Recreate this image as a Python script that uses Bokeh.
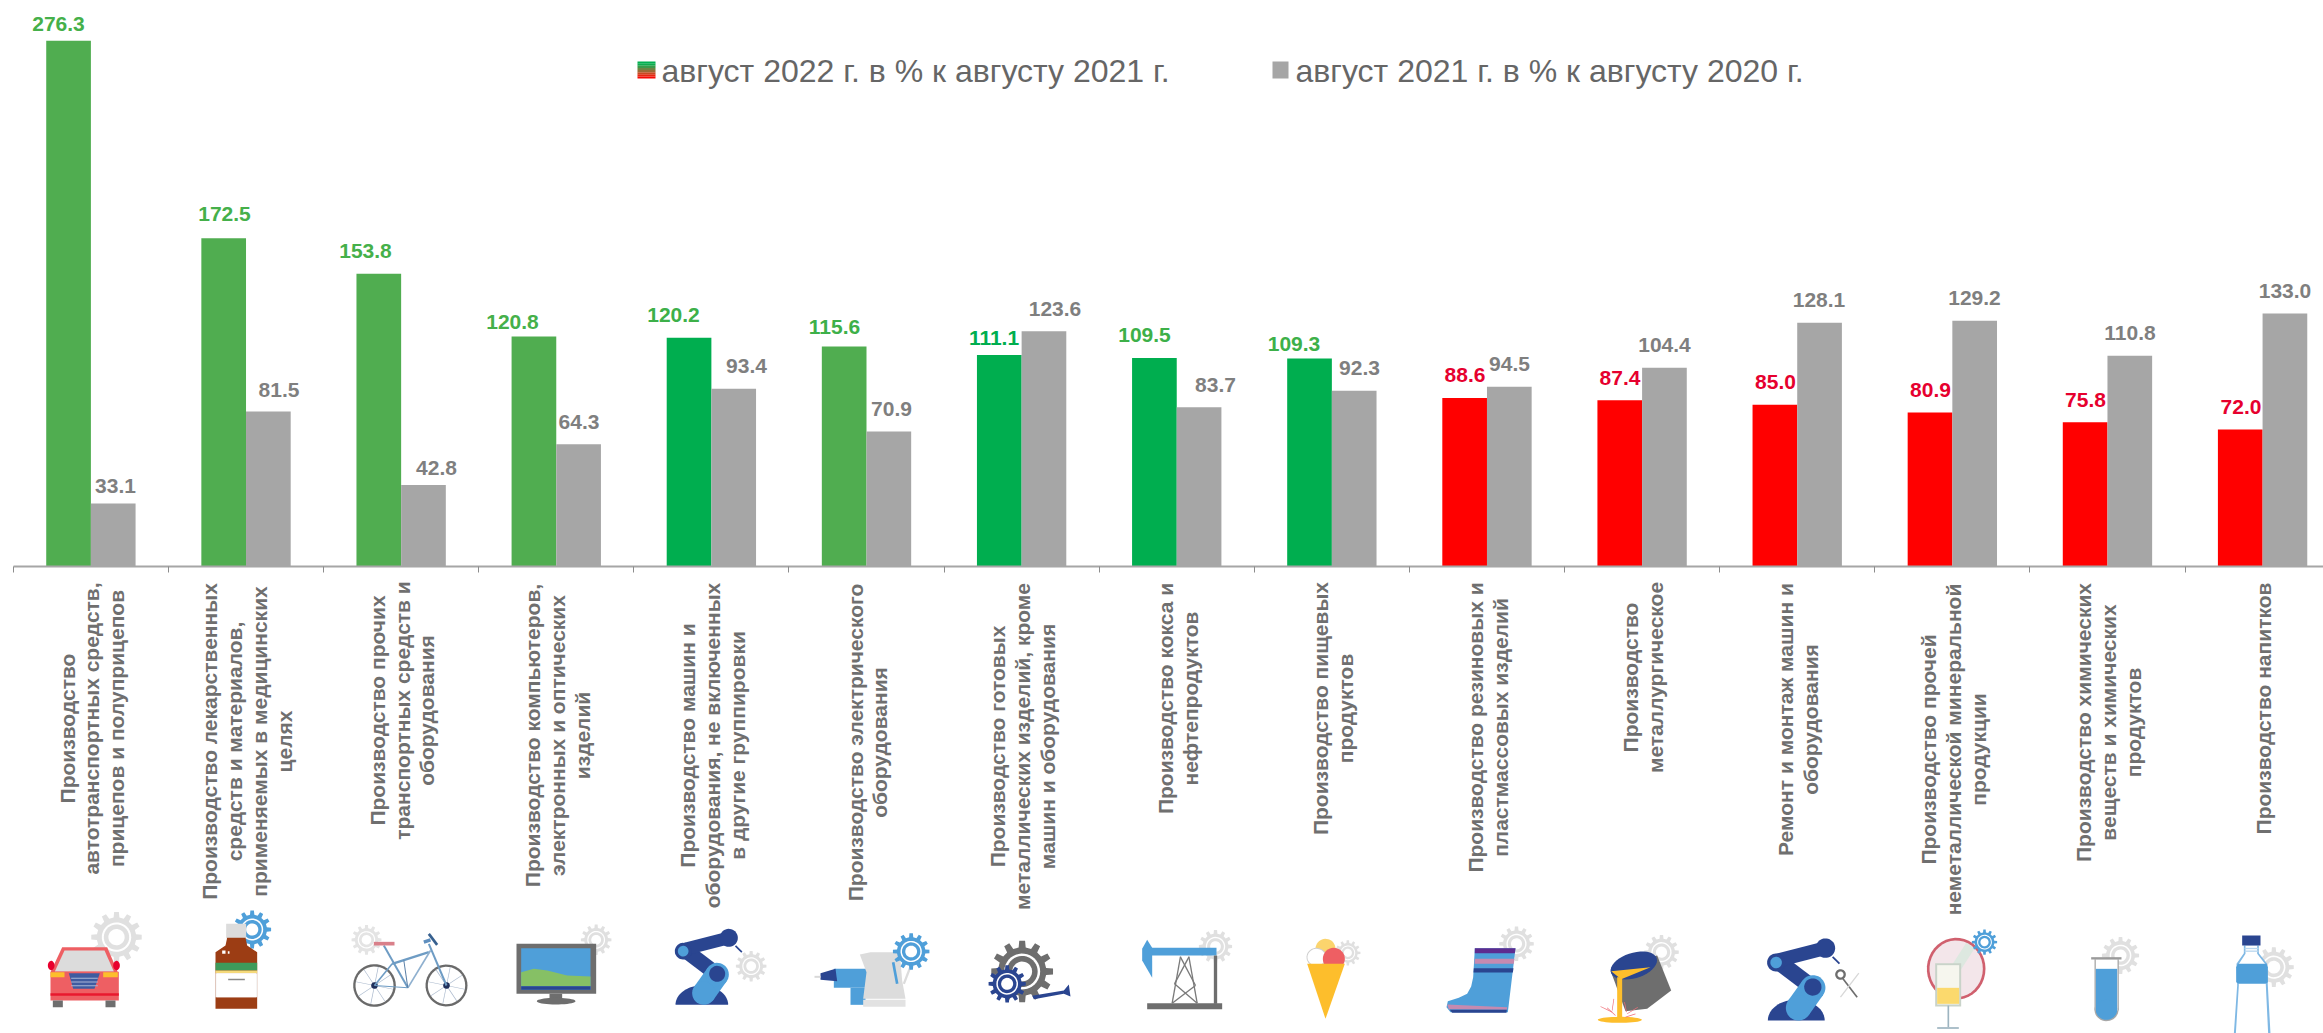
import numpy as np
from bokeh.plotting import figure
from bokeh.models import Range1d, FixedTicker
from bokeh.core.properties import value
from bokeh.embed import file_html
from bokeh.resources import INLINE

# ---------- data ----------
cat_lines = [
    ["Производство", "автотранспортных средств,", "прицепов и полуприцепов"],
    ["Производство лекарственных", "средств и материалов,", "применяемых в медицинских", "целях"],
    ["Производство прочих", "транспортных средств и", "оборудования"],
    ["Производство компьютеров,", "электронных и оптических", "изделий"],
    ["Производство машин и", "оборудования, не включенных", "в другие группировки"],
    ["Производство электрического", "оборудования"],
    ["Производство готовых", "металлических изделий, кроме", "машин и оборудования"],
    ["Производство кокса и", "нефтепродуктов"],
    ["Производство пищевых", "продуктов"],
    ["Производство резиновых и", "пластмассовых изделий"],
    ["Производство", "металлургическое"],
    ["Ремонт и монтаж машин и", "оборудования"],
    ["Производство прочей", "неметаллической минеральной", "продукции"],
    ["Производство химических", "веществ и химических", "продуктов"],
    ["Производство напитков"],
]
values_2022 = [276.3, 172.5, 153.8, 120.8, 120.2, 115.6, 111.1, 109.5, 109.3, 88.6, 87.4, 85.0, 80.9, 75.8, 72.0]
values_2021 = [33.1, 81.5, 42.8, 64.3, 93.4, 70.9, 123.6, 83.7, 92.3, 94.5, 104.4, 128.1, 129.2, 110.8, 133.0]
colors_2022 = ["#50AD50"] * 4 + ["#00AE4F"] + ["#50AD50"] + ["#00AE4F"] * 3 + ["#FF0000"] * 6
label_colors_2022 = ["#45B04A"] * 4 + ["#3DB049"] * 2 + ["#00AE4F"] + ["#3DB049"] * 2 + ["#E6002E"] * 6
legend_labels = ["август 2022 г. в % к августу 2021 г.", "август 2021 г. в % к августу 2020 г."]
legend_gradient = ["#00B050", "#0FAB4E", "#3A9A4A", "#6C8543", "#9A6A35", "#C44B22", "#E52810", "#F50A05"]

# ---------- layout (page pixels) ----------
FRAME_L, FRAME_R, FRAME_T, FRAME_B = 0, 2323, 0, 1033
AXIS_Y, PX_PER_UNIT = 566, 1.903
CAT0, CAT_W = 90.4, 155.12
BAR_W = 0.288
label_x_2022 = [58, 224, 365, 512, 673, 834, 993.5, 1144, 1293.5, 1464.5, 1619.5, 1775, 1930, 2085, 2240.5]
label_y_2022 = [23, 213.5, 250, 321, 314, 326, 337, 334, 343, 374, 377, 381, 389, 399, 406]
label_x_2021 = [115, 278.5, 436, 578.5, 746, 891, 1054.5, 1215, 1359, 1509, 1664, 1818.5, 1974, 2129.5, 2284.5]
label_y_2021 = [485, 389.5, 467, 421, 365, 408, 308, 384, 367, 363, 344, 299, 297, 332, 290]
cat_center_y = [728, 741, 710, 735, 745, 742, 746, 698, 708, 727, 677, 719, 749, 722, 708]
LINE_STEP = 24.8
CAT_FONT, VAL_FONT, LEG_FONT = "21px", "21px", "32px"

p = figure(width=FRAME_R - FRAME_L, height=FRAME_B - FRAME_T, output_backend="svg", toolbar_location=None,
           x_range=Range1d((FRAME_L - CAT0) / CAT_W, (FRAME_R - CAT0) / CAT_W),
           y_range=Range1d((AXIS_Y - FRAME_B) / PX_PER_UNIT, (AXIS_Y - FRAME_T) / PX_PER_UNIT),
           min_border=0, outline_line_color=None, background_fill_color="white", border_fill_color="white")
p.extra_x_ranges["px"] = Range1d(FRAME_L, FRAME_R)
p.extra_y_ranges["px"] = Range1d(FRAME_B, FRAME_T)
p.grid.visible = False
p.yaxis.visible = False
ax = p.xaxis[0]
ax.fixed_location = 0
ax.bounds = (-0.5, 15)
ticks = [i - 0.5 for i in range(len(values_2022) + 1)]
ax.ticker = FixedTicker(ticks=ticks)
ax.major_label_overrides = {t: "" for t in ticks}
ax.major_label_standoff = 0
ax.axis_line_color = "#A6A6A6"
ax.axis_line_width = 2
ax.major_tick_line_color = "#8C8C8C"
ax.major_tick_line_width = 1
ax.major_tick_in = 0
ax.major_tick_out = 6
ax.minor_tick_line_color = None

idx = np.arange(len(values_2022))
p.vbar(x=idx - BAR_W / 2, top=values_2022, width=BAR_W, bottom=0, fill_color=colors_2022, line_color=None)
p.vbar(x=idx + BAR_W / 2, top=values_2021, width=BAR_W, bottom=0, fill_color="#A6A6A6", line_color=None)

PX = dict(x_range_name="px", y_range_name="px")
BOLD = dict(text_font=value("Liberation Sans"), text_font_style="bold", text_align="center", text_baseline="middle")
p.text(x=label_x_2022, y=label_y_2022, text=[f"{v:.1f}" for v in values_2022], text_color=label_colors_2022,
       text_font_size=VAL_FONT, **BOLD, **PX)
p.text(x=label_x_2021, y=label_y_2021, text=[f"{v:.1f}" for v in values_2021], text_color="#7F7F7F",
       text_font_size=VAL_FONT, **BOLD, **PX)

tx, ty, tt = [], [], []
for i, lines in enumerate(cat_lines):
    n = len(lines)
    for k, s in enumerate(lines):
        tx.append(CAT0 + CAT_W * i + 1 + (k - (n - 1) / 2) * LINE_STEP)
        ty.append(cat_center_y[i])
        tt.append(s)
p.text(x=tx, y=ty, text=tt, angle=np.pi / 2, text_color="#6F6F6F", text_font_size=CAT_FONT, **BOLD, **PX)

# ---------- legend ----------
p.text(x=[661, 1295], y=[70, 70], text=legend_labels, text_color="#666666", text_font_size=LEG_FONT,
       text_font=value("Liberation Sans"), text_align="left", text_baseline="middle", **PX)
n_g = len(legend_gradient)
p.quad(left=[637] * n_g, right=[655] * n_g,
       top=[61 + 17 * i / n_g for i in range(n_g)], bottom=[61 + 17 * (i + 1) / n_g for i in range(n_g)],
       fill_color=legend_gradient, line_color=None, **PX)
p.quad(left=[1272], right=[1288], top=[61], bottom=[78], fill_color="#A6A6A6", line_color=None, **PX)

# ---------- icons, as flat polygons in crop coordinates (1/3 page px) ----------
GX, GY, GC = [], [], []
OX = 0
NAVY, BLUE, GR, DK, RED, YEL, WH = "#2A4590", "#4F9FD9", "#E0E0E0", "#6E6E6E", "#EE5F63", "#FDBE2C", "#FFFFFF"

def poly(pts, c):
    a = np.array(pts, float)
    GX.append((OX + a[:, 0] / 3).tolist())
    GY.append((900 + a[:, 1] / 3).tolist())
    GC.append(c)

def rect(x0, y0, x1, y1, c):
    poly([(x0, y0), (x1, y0), (x1, y1), (x0, y1)], c)

def ell(cx, cy, rx, ry, c, rot=0, a0=0, a1=2 * np.pi):
    t = np.linspace(a0, a1, 40)
    x, y = rx * np.cos(t), ry * np.sin(t)
    poly(list(zip(cx + x * np.cos(rot) - y * np.sin(rot), cy + x * np.sin(rot) + y * np.cos(rot))), c)

def line(x0, y0, x1, y1, w, c):
    d = np.array([x1 - x0, y1 - y0], float)
    n = np.array([-d[1], d[0]]) / np.hypot(*d) * w / 2
    poly([(x0 + n[0], y0 + n[1]), (x1 + n[0], y1 + n[1]), (x1 - n[0], y1 - n[1]), (x0 - n[0], y0 - n[1])], c)

def capsule(x0, y0, x1, y1, w, c):
    line(x0, y0, x1, y1, w, c)
    ell(x0, y0, w / 2, w / 2, c)
    ell(x1, y1, w / 2, w / 2, c)

def gear(cx, cy, r, c=GR, teeth=12):
    pts = []
    for k in range(teeth):
        a = 2 * np.pi * k / teeth
        s = 2 * np.pi / teeth
        for da, rr in [(-0.28, .78), (-0.18, 1), (0.18, 1), (0.28, .78)]:
            pts.append((cx + r * rr * np.cos(a + da * s), cy + r * rr * np.sin(a + da * s)))
    poly(pts, c)
    ell(cx, cy, .58 * r, .58 * r, WH)
    ell(cx, cy, .5 * r, .5 * r, c)
    ell(cx, cy, .32 * r, .32 * r, WH)

def robot(bx, by, s):
    X = lambda x: bx + (x - 525) * s
    Y = lambda y: by + (y - 313) * s
    ell(X(604), Y(313), 79 * s, 58 * s, NAVY, a0=np.pi, a1=2 * np.pi)
    capsule(X(555), Y(150), X(650), Y(222), 46 * s, NAVY)
    line(X(556), Y(145), X(685), Y(112), 38 * s, NAVY)
    ell(X(685), Y(112), 27 * s, 27 * s, NAVY)
    line(X(705), Y(136), X(724), Y(155), 5 * s, NAVY)
    capsule(X(610), Y(278), X(650), Y(222), 70 * s, BLUE)
    ell(X(650), Y(220), 24 * s, 24 * s, NAVY)
    ell(X(548), Y(152), 25 * s, 25 * s, NAVY)
    ell(X(548), Y(152), 16 * s, 16 * s, BLUE)

# car
OX = 0
gear(348, 110, 76)
poly([(150, 215), (185, 140), (320, 140), (352, 215)], RED)
poly([(163, 213), (192, 150), (312, 150), (340, 213)], "#DCDCDC")
ell(152, 195, 10, 14, "#E8002D"); ell(348, 195, 10, 14, "#E8002D")
rect(150, 214, 355, 300, RED)
rect(150, 215, 192, 230, YEL); rect(308, 215, 352, 230, YEL)
poly([(205, 218), (298, 218), (282, 265), (218, 265)], "#3F5BA0")
for yy in (232, 243, 254):
    rect(212, yy, 292, yy + 3, "#A9B6D6")
rect(150, 278, 355, 286, "#E8182E")
rect(157, 300, 187, 320, DK); rect(315, 300, 345, 320, DK)

# medicine bottle
gear(755, 87, 57, BLUE)
rect(677, 70, 737, 114, "#DCDCDC")
BRN = "#9C3D14"
poly([(680, 112), (735, 112), (740, 135), (770, 155), (770, 325), (645, 325), (645, 155), (675, 135)], BRN)
rect(645, 187, 770, 210, "#3E9B5B"); rect(645, 210, 770, 218, "#F5D97A")
rect(645, 218, 770, 290, "#F2F2F2"); rect(648, 218, 767, 290, WH)
rect(683, 235, 733, 239, "#8A8A8A")
rect(665, 150, 675, 160, WH); rect(682, 152, 687, 160, WH)

# bicycle
gear(1098, 118, 45, "#E4E4E4")
for cx, r in ((1122, 64), (1338, 63)):
    ell(cx, 255, r, r, "#6A6A6A"); ell(cx, 255, r - 7, r - 7, WH)
    for k in range(4):
        a = np.pi * k / 4 + .2
        line(cx - (r - 7) * np.cos(a), 255 - (r - 7) * np.sin(a), cx + (r - 7) * np.cos(a), 255 + (r - 7) * np.sin(a), 2, "#A9B8CC")
    ell(cx, 255, 10, 10, "#1F2F5A")
FR = "#6E9CC4"
line(1150, 135, 1222, 262, 6, FR); line(1175, 190, 1285, 155, 7, FR); line(1122, 255, 1175, 190, 5, FR)
line(1222, 262, 1290, 150, 5, "#8FB0CF"); line(1285, 130, 1338, 255, 6, FR)
line(1122, 255, 1222, 262, 3, FR); line(1210, 180, 1222, 262, 3, "#5A7FA6")
rect(1120, 124, 1182, 135, "#D9808A")
line(1285, 100, 1310, 133, 8, "#37608F"); line(1270, 125, 1290, 118, 10, "#5F8FBF")

# monitor
OX = 500
gear(287, 118, 46)
rect(48, 130, 287, 280, DK)
rect(62, 143, 270, 268, BLUE)
poly([(62, 215), (100, 205), (140, 210), (200, 225), (270, 228), (270, 257), (62, 257)], "#86C065")
rect(62, 257, 270, 268, NAVY)
rect(147, 280, 185, 298, DK)
ell(167, 302, 58, 10, DK)

# robot + gear
gear(752, 197, 46)
robot(525, 313, 1)

# drill + kettle
rect(1000, 205, 1100, 262, BLUE)
rect(1050, 262, 1095, 313, BLUE)
poly([(960, 218), (1005, 205), (1010, 242), (960, 238)], NAVY)
rect(942, 226, 960, 232, "#D9D9D9")
poly([(1078, 162), (1110, 155), (1198, 155), (1205, 240), (1215, 295), (1088, 295), (1098, 215)], "#DCDCDC")
line(1200, 170, 1240, 172, 7, "#DCDCDC"); line(1240, 172, 1210, 250, 7, "#DCDCDC")
rect(1088, 298, 1215, 319, "#E2E2E2")
gear(1232, 153, 55, BLUE)
line(1178, 185, 1190, 250, 8, BLUE)

# gears with horn
OX = 1000
gear(65, 213, 93, DK)
gear(20, 250, 56, NAVY)
poly([(95, 286), (190, 270), (205, 252), (210, 288), (190, 280), (100, 296)], NAVY)

# pump jack
gear(645, 138, 50)
rect(450, 142, 648, 165, BLUE)
poly([(440, 118), (425, 145), (425, 180), (455, 232), (455, 142)], BLUE)
rect(440, 308, 665, 326, DK)
rect(640, 165, 650, 310, DK)
for a in ((515, 308, 540, 168), (590, 308, 565, 168), (540, 170, 585, 255), (565, 170, 522, 250), (585, 255, 515, 308), (522, 250, 590, 308)):
    line(*a, 4, "#7A7A7A")

# ice cream
gear(1042, 157, 38)
ell(975, 145, 30, 30, "#FBD46D")
ell(948, 170, 30, 28, "#CFCFCF"); ell(948, 170, 27, 25, WH)
ell(1000, 175, 33, 33, RED)
poly([(920, 190), (1033, 190), (975, 355)], YEL)

# boot
OX = 1500
gear(48, 130, 52)
poly([(-77, 143), (45, 143), (22, 335), (-150, 335), (-162, 320), (-158, 302), (-125, 292), (-100, 280), (-88, 258), (-82, 230)], BLUE)
poly([(-77, 143), (45, 143), (43, 158), (-77, 158)], "#5E2C8F")
poly([(-77, 175), (42, 175), (40, 190), (-78, 190)], "#C58AB0")
poly([(-80, 203), (39, 203), (37, 216), (-81, 216)], NAVY)
poly([(-160, 312), (20, 320), (19, 328), (-155, 326)], "#C58AB0")
poly([(-152, 328), (19, 328), (18, 337), (-145, 337)], NAVY)

# metal ladle
gear(483, 155, 52)
poly([(330, 210), (470, 165), (512, 270), (440, 325), (375, 332)], DK)
ell(400, 195, 72, 38, NAVY, rot=-0.3)
poly([(332, 212), (450, 200), (362, 236)], YEL)
rect(350, 230, 365, 352, YEL)
ell(358, 358, 66, 9, YEL)
for a in ((300, 318, 335, 335), (320, 322, 345, 345), (340, 295, 335, 330), (372, 305, 378, 335), (412, 320, 380, 340), (405, 340, 375, 350)):
    line(*a, 2, "#F0707A")

# robot + scissors
robot(802, 360, 1.08)
line(1020, 225, 1070, 290, 5, DK)
line(1075, 218, 1020, 290, 4, "#D8D8D8")
ell(1020, 222, 16, 16, DK); ell(1020, 222, 9, 9, WH)

# glass
ell(1367, 205, 88, 93, "#D0606E"); ell(1367, 205, 80, 85, "#F3E6EA")
line(1320, 275, 1410, 135, 30, "#DDE8E0")
gear(1452, 125, 38, BLUE)
rect(1304, 188, 1382, 318, "#C9D3C9"); rect(1310, 194, 1376, 312, "#F6F6EE")
rect(1310, 262, 1376, 310, "#FBD96D")
rect(1341, 315, 1346, 380, "#9DB4C0")
rect(1310, 380, 1375, 385, "#9DB4C0")

# test tube
OX = 1950
gear(510, 165, 56)
rect(432, 176, 505, 330, "#A8A8A8")
ell(468, 328, 36, 34, "#A8A8A8")
rect(436, 176, 501, 330, WH)
rect(436, 205, 500, 328, BLUE)
ell(468, 328, 32, 30, BLUE)
rect(422, 170, 513, 177, "#9A9A9A")

# water bottle
gear(970, 200, 60)
poly([(880, 135), (925, 135), (925, 158), (950, 190), (952, 255), (960, 400), (850, 400), (860, 255), (858, 190), (880, 158)], "#7FB8E4")
poly([(885, 135), (920, 135), (920, 160), (945, 192), (946, 255), (953, 400), (856, 400), (865, 255), (864, 192), (885, 160)], WH)
rect(882, 142, 924, 146, "#B8D6EE"); rect(882, 150, 924, 154, "#B8D6EE")
rect(875, 105, 930, 135, NAVY)
poly([(862, 190), (948, 190), (952, 200), (952, 245), (945, 250), (865, 250), (857, 245), (857, 200)], BLUE)

p.patches(xs=GX, ys=GY, fill_color=GC, line_color=None, **PX)

open("out.html", "w").write(file_html(p, INLINE))
